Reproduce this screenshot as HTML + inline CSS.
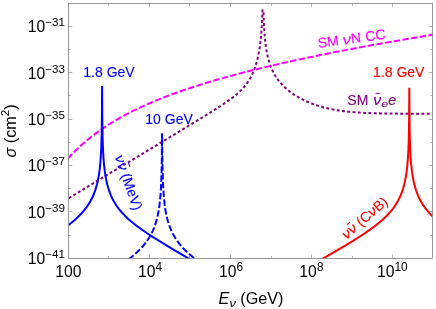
<!DOCTYPE html>
<html><head><meta charset="utf-8"><title>cross sections</title>
<style>
html,body{margin:0;padding:0;background:#fff;}
body{width:436px;height:309px;overflow:hidden;font-family:"Liberation Sans",sans-serif;}
svg{display:block;will-change:transform;}
text{font-family:"Liberation Sans",sans-serif;}
.i{font-style:italic;}
</style></head><body>
<svg width="436" height="309" viewBox="0 0 436 309">
<defs><clipPath id="c"><rect x="68.45" y="3.45" width="364.05" height="254.90000000000003"/></clipPath></defs>
<g clip-path="url(#c)" fill="none" stroke-width="2" stroke-linejoin="bevel">
<path d="M68.45,198.33 179.45,131.37 198.45,119.83 210.45,112.42 221.45,105.39 225.45,102.70 229.45,99.89 232.45,97.67 235.45,95.30 238.45,92.73 240.45,90.86 243.45,87.74 245.45,85.37 246.45,84.07 248.45,81.20 250.45,77.87 251.45,75.97 252.45,73.90 253.45,71.60 254.45,69.05 255.20,66.92 256.74,61.85 257.94,56.98 258.98,51.79 259.86,46.30 260.62,40.27 261.24,33.82 261.74,26.84 262.14,19.08 262.46,10.09 263.00,10.00 263.44,10.57 263.82,22.06 264.34,31.66 265.04,40.00 265.46,43.74 265.94,47.29 266.88,52.84 267.98,57.82 269.30,62.52 270.82,66.83 272.00,69.63 273.00,71.74 275.00,75.38 277.00,78.46 278.00,79.84 280.00,82.35 283.00,85.62 285.00,87.54 287.00,89.30 289.00,90.92 291.00,92.43 293.00,93.83 296.00,95.77 298.00,96.96 301.00,98.63 306.00,101.10 311.00,103.24 314.00,104.38 317.00,105.42 320.00,106.37 323.00,107.24 329.00,108.72 335.00,109.91 342.00,110.99 349.00,111.79 356.00,112.38 364.00,112.85 373.00,113.20 383.00,113.44 396.00,113.62 432.00,113.77" stroke="#800080" stroke-dasharray="0.9 4.4" stroke-dashoffset="-1.45" stroke-linecap="square"/>
<path d="M68.45,157.99 72.45,153.72 74.45,151.68 78.45,147.80 84.45,142.40 90.45,137.45 96.45,132.87 102.45,128.64 108.45,124.69 112.45,122.20 116.45,119.82 124.45,115.35 132.45,111.21 140.45,107.35 148.45,103.75 156.45,100.37 166.45,96.40 176.45,92.70 186.45,89.23 196.45,85.94 208.45,82.23 220.45,78.73 232.45,75.42 244.45,72.26 258.45,68.76 272.45,65.43 288.45,61.80 304.45,58.34 320.45,55.03 336.45,51.84 354.45,48.40 372.45,45.08 392.45,41.54 412.45,38.11 432.45,34.80" stroke="#ff00ff" stroke-dasharray="4.4 4.4" stroke-linecap="square"/>
<path d="M68.45,225.14 71.45,222.76 74.45,220.23 77.45,217.51 79.45,215.56 81.45,213.47 83.45,211.21 85.45,208.74 87.45,205.99 89.45,202.89 90.45,201.17 92.45,197.26 93.45,195.01 94.45,192.49 95.45,189.63 96.36,186.64 97.20,183.43 97.90,180.31 98.54,176.97 99.12,173.37 99.62,169.67 100.06,165.73 100.46,161.33 101.08,151.77 101.50,141.08 101.78,128.42 101.94,114.47 102.10,86.00 102.30,118.96 102.60,137.41 102.84,145.30 103.16,152.54 103.56,158.99 104.04,164.72 104.66,170.31 105.42,175.56 106.30,180.31 107.32,184.71 108.10,187.54 109.10,190.68 110.10,193.41 111.10,195.82 112.10,198.00 113.10,199.97 115.10,203.46 117.10,206.50 119.10,209.19 122.10,212.75 125.10,215.91 129.10,219.66 133.10,223.05 137.10,226.17 142.10,229.80 147.10,233.23 153.10,237.14 159.10,240.91 166.10,245.18 175.10,250.55 199.10,264.52" stroke="#0000ff"/>
<path d="M120.00,265.56 124.00,262.75 128.00,259.78 131.00,257.43 134.00,254.92 137.00,252.23 139.00,250.31 142.00,247.17 144.00,244.85 146.00,242.31 148.00,239.48 150.00,236.26 151.00,234.46 152.00,232.50 153.00,230.35 154.00,227.96 155.00,225.27 156.00,222.17 156.86,219.09 157.62,215.91 158.30,212.58 158.92,208.99 159.46,205.23 159.94,201.18 160.36,196.83 160.72,192.16 161.24,182.63 161.62,170.89 161.84,158.54 162.02,134.81 162.10,133.40 162.18,134.81 162.32,155.18 162.56,170.03 162.92,181.67 163.44,191.56 163.78,196.12 164.18,200.42 164.64,204.45 165.16,208.21 165.74,211.71 166.40,215.08 167.14,218.30 167.94,221.29 169.10,224.98 170.10,227.71 171.10,230.12 172.10,232.30 173.10,234.27 175.10,237.76 177.10,240.80 179.10,243.49 181.10,245.92 183.10,248.15 185.10,250.21 188.10,253.06 190.10,254.84 193.10,257.35 196.10,259.71 199.10,261.95" stroke="#0000ff" stroke-dasharray="4.4 4.4" stroke-dashoffset="6.07" stroke-linecap="square"/>
<path d="M315.00,263.26 337.00,250.44 346.00,245.06 353.00,240.78 359.00,236.99 365.00,233.06 370.00,229.61 374.00,226.69 378.00,223.59 382.00,220.23 385.00,217.48 388.00,214.46 391.00,211.09 393.00,208.58 394.00,207.22 396.00,204.24 398.00,200.83 399.00,198.91 400.00,196.80 401.00,194.46 402.00,191.83 403.00,188.83 403.92,185.62 404.98,181.18 405.88,176.45 406.64,171.38 407.28,165.83 407.78,160.10 408.20,153.59 408.52,146.66 408.78,138.50 409.10,119.26 409.30,87.80 409.58,126.04 409.80,137.71 410.12,147.67 410.58,156.64 411.18,164.39 411.96,171.38 412.92,177.60 414.00,182.88 415.30,187.84 416.30,190.98 417.30,193.71 418.30,196.12 419.30,198.30 420.30,200.27 422.30,203.76 423.30,205.33 425.30,208.18 428.30,211.92 430.30,214.15 432.30,216.21" stroke="#ff0000"/>
</g>
<g stroke="#666" fill="none">
<rect x="68.45" y="3.45" width="364.05" height="254.90000000000003" stroke-width="0.66"/>
<g stroke-width="0.5"><line x1="108.50" y1="258.35" x2="108.50" y2="256.05"/><line x1="108.50" y1="3.45" x2="108.50" y2="5.75"/><line x1="149.50" y1="258.35" x2="149.50" y2="254.55"/><line x1="149.50" y1="3.45" x2="149.50" y2="7.25"/><line x1="189.50" y1="258.35" x2="189.50" y2="256.05"/><line x1="189.50" y1="3.45" x2="189.50" y2="5.75"/><line x1="230.50" y1="258.35" x2="230.50" y2="254.55"/><line x1="230.50" y1="3.45" x2="230.50" y2="7.25"/><line x1="271.50" y1="258.35" x2="271.50" y2="256.05"/><line x1="271.50" y1="3.45" x2="271.50" y2="5.75"/><line x1="311.50" y1="258.35" x2="311.50" y2="254.55"/><line x1="311.50" y1="3.45" x2="311.50" y2="7.25"/><line x1="352.50" y1="258.35" x2="352.50" y2="256.05"/><line x1="352.50" y1="3.45" x2="352.50" y2="5.75"/><line x1="392.50" y1="258.35" x2="392.50" y2="254.55"/><line x1="392.50" y1="3.45" x2="392.50" y2="7.25"/><line x1="68.45" y1="235.50" x2="70.75" y2="235.50"/><line x1="432.50" y1="235.50" x2="430.20" y2="235.50"/><line x1="68.45" y1="211.50" x2="72.25" y2="211.50"/><line x1="432.50" y1="211.50" x2="428.70" y2="211.50"/><line x1="68.45" y1="188.50" x2="70.75" y2="188.50"/><line x1="432.50" y1="188.50" x2="430.20" y2="188.50"/><line x1="68.45" y1="165.50" x2="72.25" y2="165.50"/><line x1="432.50" y1="165.50" x2="428.70" y2="165.50"/><line x1="68.45" y1="142.50" x2="70.75" y2="142.50"/><line x1="432.50" y1="142.50" x2="430.20" y2="142.50"/><line x1="68.45" y1="119.50" x2="72.25" y2="119.50"/><line x1="432.50" y1="119.50" x2="428.70" y2="119.50"/><line x1="68.45" y1="95.50" x2="70.75" y2="95.50"/><line x1="432.50" y1="95.50" x2="430.20" y2="95.50"/><line x1="68.45" y1="72.50" x2="72.25" y2="72.50"/><line x1="432.50" y1="72.50" x2="428.70" y2="72.50"/><line x1="68.45" y1="49.50" x2="70.75" y2="49.50"/><line x1="432.50" y1="49.50" x2="430.20" y2="49.50"/><line x1="68.45" y1="26.50" x2="72.25" y2="26.50"/><line x1="432.50" y1="26.50" x2="428.70" y2="26.50"/></g>
</g>
<g font-size="15.7" fill="#000">
<text x="45.2" y="264.20" text-anchor="end">10</text><text x="45.2" y="258.00" font-size="11.6">−41</text><text x="45.2" y="217.84" text-anchor="end">10</text><text x="45.2" y="211.64" font-size="11.6">−39</text><text x="45.2" y="171.48" text-anchor="end">10</text><text x="45.2" y="165.28" font-size="11.6">−37</text><text x="45.2" y="125.12" text-anchor="end">10</text><text x="45.2" y="118.92" font-size="11.6">−35</text><text x="45.2" y="78.76" text-anchor="end">10</text><text x="45.2" y="72.56" font-size="11.6">−33</text><text x="45.2" y="32.40" text-anchor="end">10</text><text x="45.2" y="26.20" font-size="11.6">−31</text>
<text x="68.45" y="277.4" text-anchor="middle">100</text><text x="155.50" y="277.4" text-anchor="end">10</text><text x="155.60" y="271.2" font-size="11.9">4</text><text x="236.50" y="277.4" text-anchor="end">10</text><text x="236.60" y="271.2" font-size="11.9">6</text><text x="316.80" y="277.4" text-anchor="end">10</text><text x="316.90" y="271.2" font-size="11.9">8</text><text x="394.40" y="277.4" text-anchor="end">10</text><text x="394.50" y="271.2" font-size="11.9">10</text>
<g transform="translate(218.6,304.4) rotate(0)" fill="#000"><text transform="translate(0.00,0.00)" font-size="16.2" class="i">E</text><text transform="translate(10.81,2.30) scale(1.1,1)" font-size="11.6" class="i">ν</text><text transform="translate(21.69,0.00)" font-size="16.2">(GeV)</text></g>
<g transform="translate(15.6,157.4) rotate(-90)" fill="#000"><text transform="translate(0.00,0.00)" font-size="16.2" class="i">σ</text><text transform="translate(14.27,0.00)" font-size="16.2">(cm</text><text transform="translate(41.26,-6.30)" font-size="11.6">2</text><text transform="translate(47.71,0.00)" font-size="16.2">)</text></g>
</g>
<g font-size="14">
<text x="83.3" y="76.9" fill="#0000ff" stroke="#0000ff" stroke-width="0.12">1.8 GeV</text>
<text x="145.3" y="123.8" fill="#0000ff" stroke="#0000ff" stroke-width="0.12">10 GeV</text>
<text x="373.1" y="76.8" fill="#ff0000" stroke="#ff0000" stroke-width="0.12">1.8 GeV</text>
<g transform="translate(347.3,104.6) rotate(0)" fill="#800080" stroke="#800080" stroke-width="0.12"><text transform="translate(0.00,0.00)" font-size="14.0">SM </text><text transform="translate(25.89,0.00)" font-size="3.6"></text><text transform="translate(25.89,0.00) scale(1.14,1)" font-size="14.0" class="i">ν</text><text transform="translate(33.87,2.30) scale(1.28,1)" font-size="9.8" class="i">e</text><text transform="translate(40.85,0.00) scale(1.03,1)" font-size="14.0" class="i">e</text><line x1="28.29" y1="-11.20" x2="32.49" y2="-11.20" stroke="#800080" stroke-width="1"/></g>
<g transform="translate(318.6,48.1) rotate(-8)" fill="#ff00ff" stroke="#ff00ff" stroke-width="0.12"><text transform="translate(0.00,0.00)" font-size="14.0">SM </text><text transform="translate(24.89,0.00) scale(1.2,1)" font-size="14.0" class="i">ν</text><text transform="translate(33.29,0.00)" font-size="14.0">N</text><text transform="translate(44.07,0.00)" font-size="2.4"></text><text transform="translate(47.96,0.00)" font-size="14.0">CC</text></g>
<g transform="translate(114.5,156.8) rotate(70.5)" fill="#0000ff" stroke="#0000ff" stroke-width="0.12"><text transform="translate(0.00,0.00) scale(1.12,1)" font-size="14.0" class="i">ν</text><text transform="translate(7.84,0.00) scale(1.12,1)" font-size="14.0" class="i">ν</text><text transform="translate(19.57,0.00)" font-size="14.0">(MeV)</text><line x1="10.24" y1="-11.20" x2="14.44" y2="-11.20" stroke="#0000ff" stroke-width="1"/></g>
<g transform="translate(346.4,240.0) rotate(-41)" fill="#ff0000" stroke="#ff0000" stroke-width="0.12"><text transform="translate(0.00,0.00) scale(1.12,1)" font-size="14.0" class="i">ν</text><text transform="translate(7.84,0.00) scale(1.12,1)" font-size="14.0" class="i">ν</text><text transform="translate(19.57,0.00)" font-size="14.0">(C</text><text transform="translate(34.34,0.00) scale(1.12,1)" font-size="14.0" class="i">ν</text><text transform="translate(42.18,0.00)" font-size="14.0">B)</text><line x1="10.24" y1="-11.20" x2="14.44" y2="-11.20" stroke="#ff0000" stroke-width="1"/></g>
</g>
</svg>
</body></html>
